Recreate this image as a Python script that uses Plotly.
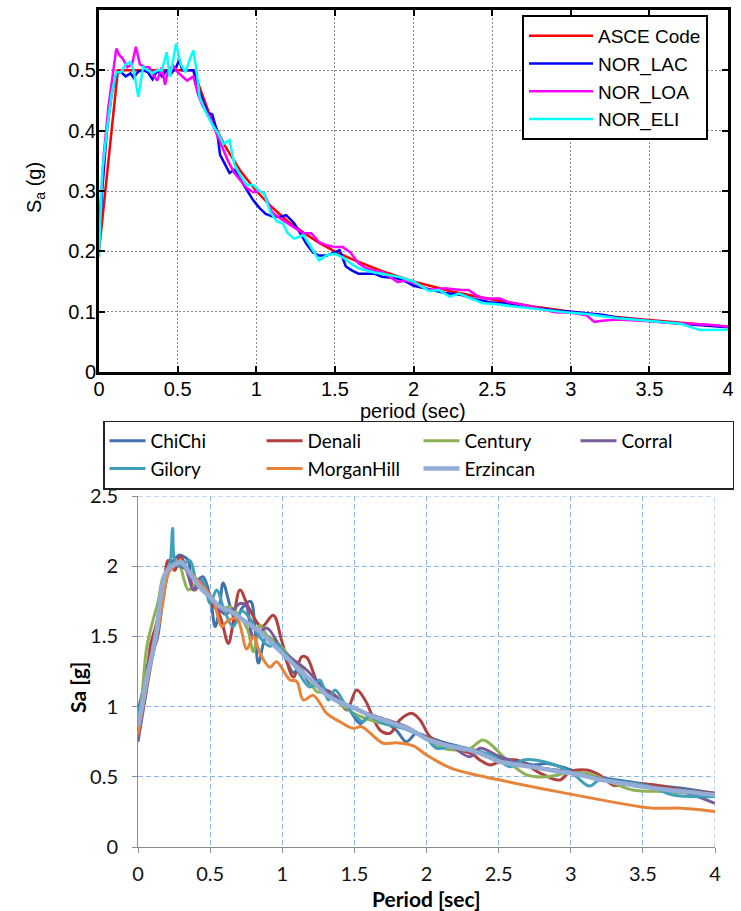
import plotly.graph_objects as go

W, H = 741, 911


def px(x):
    return x / W


def py(y):
    return 1 - y / H


# ---------------- upper panel: code spectrum vs. scaled records ----------------
asce_T = [0, 0.12, 0.6, 0.7, 0.8, 0.9, 1.0, 1.1, 1.2, 1.3, 1.4, 1.5, 1.6, 1.8, 2.0,
          2.25, 2.5, 2.75, 3.0, 3.25, 3.5, 3.75, 4.0]
asce_Sa = [0.2, 0.5, 0.5, 0.429, 0.375, 0.333, 0.3, 0.273, 0.25, 0.231, 0.214, 0.2,
           0.188, 0.167, 0.15, 0.133, 0.12, 0.109, 0.1, 0.092, 0.086, 0.08, 0.075]

lac_T = [0, 0.02, 0.05, 0.08, 0.11, 0.14, 0.17, 0.2, 0.22, 0.25, 0.28, 0.31, 0.34, 0.37,
         0.4, 0.43, 0.46, 0.49, 0.51, 0.53, 0.56, 0.6, 0.63, 0.66, 0.69, 0.72, 0.75, 0.77,
         0.8, 0.83, 0.86, 0.89, 0.92, 0.95, 0.98, 1.02, 1.06, 1.1, 1.15, 1.19, 1.24, 1.28,
         1.32, 1.36, 1.4, 1.45, 1.49, 1.53, 1.57, 1.61, 1.65, 1.7, 1.75, 1.8, 1.85, 1.9,
         1.95, 2.0, 2.1, 2.2, 2.3, 2.4, 2.5, 2.6, 2.7, 2.8, 2.9, 3.0, 3.1, 3.2, 3.3, 3.4,
         3.5, 3.6, 3.7, 3.8, 3.9, 4.0]
lac_Sa = [0.21, 0.30, 0.40, 0.46, 0.495, 0.497, 0.49, 0.495, 0.488, 0.498, 0.50, 0.497,
          0.485, 0.50, 0.49, 0.50, 0.495, 0.505, 0.517, 0.50, 0.50, 0.50, 0.47, 0.45, 0.43,
          0.427, 0.40, 0.36, 0.345, 0.33, 0.335, 0.325, 0.31, 0.297, 0.285, 0.272, 0.262,
          0.258, 0.257, 0.26, 0.247, 0.23, 0.212, 0.198, 0.193, 0.193, 0.197, 0.202, 0.175,
          0.168, 0.163, 0.163, 0.163, 0.158, 0.157, 0.155, 0.15, 0.143, 0.137, 0.131, 0.128,
          0.12, 0.115, 0.113, 0.109, 0.105, 0.102, 0.1, 0.098, 0.095, 0.09, 0.087, 0.085,
          0.082, 0.08, 0.078, 0.077, 0.074]

loa_T = [0, 0.03, 0.06, 0.09, 0.11, 0.13, 0.15, 0.18, 0.21, 0.235, 0.26, 0.29, 0.32, 0.35,
         0.37, 0.4, 0.42, 0.44, 0.47, 0.5, 0.53, 0.56, 0.6, 0.63, 0.66, 0.7, 0.74, 0.78,
         0.82, 0.86, 0.9, 0.94, 0.98, 1.02, 1.05, 1.1, 1.15, 1.2, 1.25, 1.3, 1.35, 1.4,
         1.45, 1.5, 1.55, 1.6, 1.65, 1.7, 1.75, 1.8, 1.85, 1.9, 1.95, 2.0, 2.1, 2.2, 2.3,
         2.35, 2.4, 2.45, 2.55, 2.6, 2.7, 2.8, 2.9, 3.0, 3.1, 3.15, 3.2, 3.3, 3.4, 3.5, 3.6,
         3.7, 3.8, 3.9, 4.0]
loa_Sa = [0.24, 0.36, 0.44, 0.50, 0.536, 0.525, 0.52, 0.505, 0.51, 0.539, 0.51, 0.505,
          0.505, 0.49, 0.483, 0.505, 0.476, 0.50, 0.508, 0.497, 0.49, 0.483, 0.49, 0.46,
          0.44, 0.425, 0.40, 0.375, 0.35, 0.33, 0.318, 0.305, 0.298, 0.30, 0.296, 0.265,
          0.255, 0.246, 0.238, 0.23, 0.23, 0.215, 0.21, 0.207, 0.207, 0.198, 0.18, 0.172,
          0.168, 0.166, 0.158, 0.149, 0.152, 0.148, 0.136, 0.139, 0.136, 0.136, 0.127,
          0.122, 0.122, 0.116, 0.111, 0.105, 0.099, 0.098, 0.094, 0.083, 0.085, 0.087,
          0.086, 0.084, 0.082, 0.081, 0.08, 0.078, 0.075]

eli_T = [0, 0.02, 0.05, 0.08, 0.11, 0.14, 0.17, 0.2, 0.22, 0.25, 0.28, 0.31, 0.34, 0.37,
         0.4, 0.43, 0.45, 0.47, 0.49, 0.52, 0.55, 0.58, 0.6, 0.62, 0.64, 0.68, 0.72, 0.76,
         0.79, 0.83, 0.86, 0.9, 0.94, 0.98, 1.02, 1.05, 1.09, 1.13, 1.17, 1.2, 1.24, 1.3,
         1.35, 1.4, 1.45, 1.5, 1.55, 1.6, 1.65, 1.7, 1.75, 1.8, 1.9, 2.0, 2.1, 2.16, 2.23,
         2.29, 2.35, 2.44, 2.5, 2.6, 2.7, 2.8, 2.9, 3.0, 3.1, 3.2, 3.3, 3.4, 3.5, 3.6, 3.7,
         3.82, 3.9, 4.0]
eli_Sa = [0.19, 0.33, 0.40, 0.46, 0.497, 0.497, 0.51, 0.514, 0.50, 0.456, 0.505, 0.50,
          0.495, 0.50, 0.50, 0.53, 0.489, 0.515, 0.544, 0.51, 0.497, 0.52, 0.533, 0.50,
          0.456, 0.43, 0.41, 0.395, 0.378, 0.384, 0.345, 0.325, 0.31, 0.31, 0.30, 0.296,
          0.265, 0.25, 0.246, 0.23, 0.221, 0.227, 0.205, 0.185, 0.194, 0.196, 0.19, 0.18,
          0.172, 0.168, 0.165, 0.163, 0.158, 0.15, 0.134, 0.136, 0.125, 0.13, 0.124, 0.114,
          0.113, 0.11, 0.106, 0.103, 0.1, 0.098, 0.096, 0.092, 0.089, 0.087, 0.085, 0.082,
          0.08, 0.0695, 0.0695, 0.07]

top_names = ["ASCE Code", "NOR_LAC", "NOR_LOA", "NOR_ELI"]
top_colors = ["#ff0000", "#0000ff", "#ff00ff", "#00ffff"]
top_T = [asce_T, lac_T, loa_T, eli_T]
top_Sa = [asce_Sa, lac_Sa, loa_Sa, eli_Sa]

top_xticks = [0, 0.5, 1, 1.5, 2, 2.5, 3, 3.5, 4]
top_xlabels = ["0", "0.5", "1", "1.5", "2", "2.5", "3", "3.5", "4"]
top_yticks = [0, 0.1, 0.2, 0.3, 0.4, 0.5]
top_ylabels = ["0", "0.1", "0.2", "0.3", "0.4", "0.5"]

# ---------------- lower panel: seven matched ground motions ----------------
chichi_T = [0, 0.03, 0.06, 0.1, 0.13, 0.17, 0.21, 0.245, 0.29, 0.33, 0.35, 0.37, 0.41,
            0.45, 0.5, 0.535, 0.565, 0.59, 0.64, 0.68, 0.72, 0.78, 0.81, 0.835, 0.89, 0.94,
            1.0, 1.04, 1.08, 1.12, 1.19, 1.26, 1.35, 1.45, 1.54, 1.6, 1.68, 1.79, 1.86,
            1.93, 2.0, 2.14, 2.28, 2.37, 2.51, 2.65, 2.74, 2.83, 2.97, 3.11, 3.32, 3.57,
            3.78, 4.0]
chichi_Sa = [0.97, 1.1, 1.27, 1.4, 1.47, 1.74, 1.97, 2.04, 2.08, 2.06, 2.04, 1.93, 1.9,
             1.925, 1.78, 1.57, 1.7, 1.88, 1.71, 1.6, 1.7, 1.75, 1.57, 1.31, 1.5, 1.47, 1.4,
             1.3, 1.24, 1.28, 1.165, 1.14, 1.07, 1.0, 0.88, 0.93, 0.905, 0.833, 0.75, 0.81,
             0.786, 0.739, 0.703, 0.679, 0.632, 0.61, 0.584, 0.595, 0.56, 0.513, 0.477,
             0.44, 0.417, 0.382]

denali_T = [0, 0.05, 0.085, 0.13, 0.175, 0.21, 0.255, 0.29, 0.34, 0.395, 0.43, 0.5, 0.57,
            0.626, 0.66, 0.707, 0.765, 0.857, 0.938, 0.996, 1.077, 1.135, 1.17, 1.26, 1.33,
            1.377, 1.447, 1.516, 1.574, 1.678, 1.747, 1.816, 1.897, 1.955, 2.024, 2.117,
            2.23, 2.32, 2.37, 2.44, 2.51, 2.625, 2.79, 2.925, 2.995, 3.11, 3.2, 3.295, 3.43,
            3.6, 3.78, 4.0]
denali_Sa = [0.85, 1.07, 1.43, 1.6, 1.83, 2.04, 1.97, 2.07, 1.98, 1.83, 1.88, 1.76, 1.64,
             1.45, 1.6, 1.83, 1.71, 1.57, 1.65, 1.47, 1.21, 1.355, 1.35, 1.14, 1.106, 1.07,
             0.976, 1.118, 1.047, 0.833, 0.81, 0.905, 0.952, 0.905, 0.786, 0.725, 0.69,
             0.66, 0.62, 0.584, 0.608, 0.62, 0.525, 0.477, 0.537, 0.548, 0.513, 0.44, 0.453,
             0.44, 0.405, 0.382]

century_T = [0, 0.03, 0.06, 0.1, 0.14, 0.175, 0.21, 0.25, 0.29, 0.32, 0.35, 0.4, 0.45,
             0.52, 0.58, 0.64, 0.7, 0.76, 0.8, 0.846, 0.9, 0.97, 1.054, 1.12, 1.18, 1.24,
             1.3, 1.4, 1.5, 1.65, 1.8, 1.9, 2.0, 2.09, 2.2, 2.3, 2.39, 2.45, 2.556, 2.695,
             2.83, 2.97, 3.11, 3.3, 3.43, 3.66, 3.85, 4.0]
century_Sa = [0.82, 1.1, 1.42, 1.6, 1.75, 1.93, 1.98, 2.02, 2.0, 1.9, 1.83, 1.87, 1.82,
              1.76, 1.7, 1.71, 1.65, 1.55, 1.39, 1.58, 1.5, 1.45, 1.355, 1.28, 1.2, 1.106,
              1.1, 1.02, 0.95, 0.892, 0.857, 0.833, 0.774, 0.714, 0.69, 0.70, 0.762, 0.727,
              0.62, 0.513, 0.5, 0.525, 0.525, 0.453, 0.406, 0.394, 0.38, 0.37]

corral_T = [0, 0.04, 0.09, 0.13, 0.175, 0.233, 0.29, 0.33, 0.384, 0.43, 0.52, 0.6, 0.66,
            0.707, 0.75, 0.8, 0.892, 1.0, 1.08, 1.17, 1.3, 1.47, 1.65, 1.86, 2.0, 2.16, 2.3,
            2.37, 2.51, 2.74, 2.97, 3.25, 3.55, 3.78, 4.0]
corral_Sa = [0.75, 1.0, 1.3, 1.5, 1.79, 2.0, 2.0, 1.98, 1.83, 1.9, 1.76, 1.66, 1.69, 1.735,
             1.72, 1.5, 1.56, 1.4, 1.33, 1.26, 1.12, 1.0, 0.93, 0.857, 0.774, 0.726, 0.643,
             0.703, 0.643, 0.572, 0.537, 0.477, 0.43, 0.394, 0.31]

gilory_T = [0, 0.03, 0.06, 0.1, 0.14, 0.2, 0.225, 0.24, 0.255, 0.29, 0.36, 0.41, 0.45, 0.5,
            0.545, 0.6, 0.66, 0.72, 0.78, 0.84, 0.915, 0.96, 1.0, 1.08, 1.19, 1.26, 1.32,
            1.365, 1.447, 1.56, 1.6, 1.7, 1.8, 1.9, 2.0, 2.07, 2.2, 2.3, 2.45, 2.58, 2.67,
            2.86, 3.01, 3.13, 3.2, 3.43, 3.55, 3.71, 4.0]
gilory_Sa = [0.95, 1.05, 1.17, 1.4, 1.6, 1.93, 2.04, 2.27, 2.04, 2.0, 2.04, 1.88, 1.9,
             1.735, 1.83, 1.68, 1.57, 1.68, 1.62, 1.5, 1.43, 1.45, 1.4, 1.3, 1.14, 1.19,
             1.047, 1.118, 1.0, 0.892, 0.93, 0.88, 0.857, 0.82, 0.774, 0.703, 0.72, 0.69,
             0.655, 0.572, 0.62, 0.595, 0.525, 0.434, 0.477, 0.453, 0.43, 0.37, 0.36]

morgan_T = [0, 0.04, 0.083, 0.13, 0.175, 0.21, 0.25, 0.29, 0.34, 0.43, 0.52, 0.58, 0.615,
            0.684, 0.754, 0.8, 0.846, 0.915, 0.96, 1.054, 1.1, 1.146, 1.215, 1.308, 1.4,
            1.49, 1.55, 1.6, 1.7, 1.79, 1.91, 2.0, 2.175, 2.51, 2.97, 3.48, 3.57, 3.77, 4.0]
morgan_Sa = [0.8, 1.04, 1.28, 1.5, 1.76, 1.95, 2.0, 2.04, 1.98, 1.88, 1.76, 1.57, 1.605,
             1.63, 1.41, 1.5, 1.38, 1.28, 1.32, 1.19, 1.18, 1.047, 1.08, 0.952, 0.892,
             0.845, 0.857, 0.82, 0.739, 0.743, 0.72, 0.655, 0.56, 0.477, 0.382, 0.287,
             0.276, 0.276, 0.252]

erzincan_T = [0, 0.03, 0.06, 0.1, 0.13, 0.16, 0.19, 0.23, 0.27, 0.3, 0.34, 0.38, 0.43, 0.5,
              0.57, 0.64, 0.71, 0.78, 0.85, 0.92, 1.0, 1.08, 1.15, 1.22, 1.3, 1.4, 1.5, 1.6,
              1.7, 1.8, 1.9, 2.0, 2.1, 2.2, 2.3, 2.4, 2.5, 2.6, 2.75, 2.9, 3.0, 3.1, 3.2,
              3.35, 3.5, 3.65, 3.8, 3.9, 4.0]
erzincan_Sa = [0.86, 1.02, 1.2, 1.38, 1.55, 1.8, 1.95, 2.0, 2.02, 2.03, 1.98, 1.92, 1.85,
               1.78, 1.71, 1.68, 1.63, 1.58, 1.53, 1.46, 1.38, 1.3, 1.23, 1.17, 1.09, 1.03,
               0.99, 0.94, 0.905, 0.87, 0.83, 0.77, 0.735, 0.71, 0.69, 0.655, 0.61, 0.59,
               0.568, 0.54, 0.525, 0.505, 0.48, 0.455, 0.43, 0.41, 0.394, 0.382, 0.37]

bot_names = ["ChiChi", "Denali", "Century", "Corral", "Gilory", "MorganHill", "Erzincan"]
bot_colors = ["#3f72af", "#b0413e", "#8db255", "#7a5c9a", "#40a0ba", "#e8843a", "#94add6"]
bot_widths = [3, 3, 3, 3, 3, 3, 4.5]
bot_T = [chichi_T, denali_T, century_T, corral_T, gilory_T, morgan_T, erzincan_T]
bot_Sa = [chichi_Sa, denali_Sa, century_Sa, corral_Sa, gilory_Sa, morgan_Sa, erzincan_Sa]

bot_xticks = [0, 0.5, 1, 1.5, 2, 2.5, 3, 3.5, 4]
bot_xlabels = ["0", "0.5", "1", "1.5", "2", "2.5", "3", "3.5", "4"]
bot_yticks = [0, 0.5, 1, 1.5, 2, 2.5]
bot_ylabels = ["0", "0.5", "1", "1.5", "2", "2.5"]

fig = go.Figure()

for name, col, t, sa in zip(top_names, top_colors, top_T, top_Sa):
    fig.add_trace(go.Scatter(
        x=t, y=sa, name=name, mode="lines", xaxis="x", yaxis="y",
        line=dict(color=col, width=2.5), legend="legend",
    ))

for name, col, wd, t, sa in zip(bot_names, bot_colors, bot_widths, bot_T, bot_Sa):
    fig.add_trace(go.Scatter(
        x=t, y=sa, name=name, mode="lines", xaxis="x2", yaxis="y2",
        line=dict(color=col, width=wd, shape="spline", smoothing=1),
        legend="legend2",
    ))

arial = "Liberation Sans, Arial, sans-serif"
cal = "Lato, Carlito, Calibri, sans-serif"

matlab_axis = dict(
    showline=True, linecolor="black", linewidth=3, mirror="allticks",
    ticks="inside", ticklen=6, tickwidth=2, tickcolor="black",
    showgrid=True, gridcolor="#8a8a8a", gridwidth=1, griddash="2px,2px",
    zeroline=False, tickfont=dict(family=arial, size=20, color="black"),
)
excel_axis = dict(
    showline=True, linecolor="#8c8c8c", linewidth=1, mirror=False,
    ticks="outside", ticklen=5, tickwidth=1, tickcolor="#8c8c8c",
    showgrid=True, gridcolor="#8db3e6", gridwidth=1, griddash="5px,3px",
    zeroline=False, tickfont=dict(family=cal, size=20, color="#111111"),
)


def label(text, x, y, font, angle=0):
    return dict(text=text, x=px(x), y=py(y), xref="paper", yref="paper",
                xanchor="center", yanchor="middle", showarrow=False,
                textangle=angle, font=font)


fig.update_layout(
    width=W, height=H,
    margin=dict(l=0, r=0, t=0, b=0, autoexpand=False),
    paper_bgcolor="white", plot_bgcolor="white", showlegend=True,
    xaxis=dict(domain=[px(99), px(728)], anchor="y", range=[0, 4],
               tickvals=top_xticks, ticktext=top_xlabels, ticklabelstandoff=-3,
               **matlab_axis),
    yaxis=dict(domain=[py(372), py(10)], anchor="x", range=[0, 0.6],
               tickvals=top_yticks, ticktext=top_ylabels, ticklabelstandoff=-4,
               **matlab_axis),
    xaxis2=dict(domain=[px(138), px(715)], anchor="y2", range=[0, 4],
                tickvals=bot_xticks, ticktext=bot_xlabels, ticklabelstandoff=4,
                **excel_axis),
    yaxis2=dict(domain=[py(847), py(496)], anchor="x2", range=[0, 2.5],
                tickvals=bot_yticks, ticktext=bot_ylabels, ticklabelstandoff=10,
                **excel_axis),
    legend=dict(
        x=px(522), y=py(15), xanchor="left", yanchor="top",
        bgcolor="white", bordercolor="black", borderwidth=2,
        font=dict(family=arial, size=19, color="black"),
        itemwidth=64,
    ),
    legend2=dict(
        orientation="h", x=px(103), y=py(455), xanchor="left", yanchor="middle",
        bgcolor="white", bordercolor="#222222", borderwidth=1.5,
        font=dict(family=cal, size=19, color="black"),
        entrywidth=106, itemwidth=36,
    ),
    shapes=[
        dict(type="line", xref="x2", yref="y2", x0=4, x1=4, y0=0, y1=2.5,
             line=dict(color="#8db3e6", width=1, dash="5px,3px"), layer="below"),
        dict(type="line", xref="x2", yref="y2", x0=0, x1=4, y0=2.5, y1=2.5,
             line=dict(color="#8db3e6", width=1, dash="5px,3px"), layer="below"),
    ],
    annotations=[
        label("period (sec)", 413, 411, dict(family=arial, size=20, color="black")),
        label("S<sub>a</sub> (g)", 35, 188, dict(family=arial, size=20, color="black"), -90),
        label("<b>Period [sec]</b>", 426, 898, dict(family=cal, size=21, color="black")),
        label("<b>Sa [g]</b>", 77, 688, dict(family=cal, size=21, color="black"), -90),
    ],
)

fig.write_html("out.html")
